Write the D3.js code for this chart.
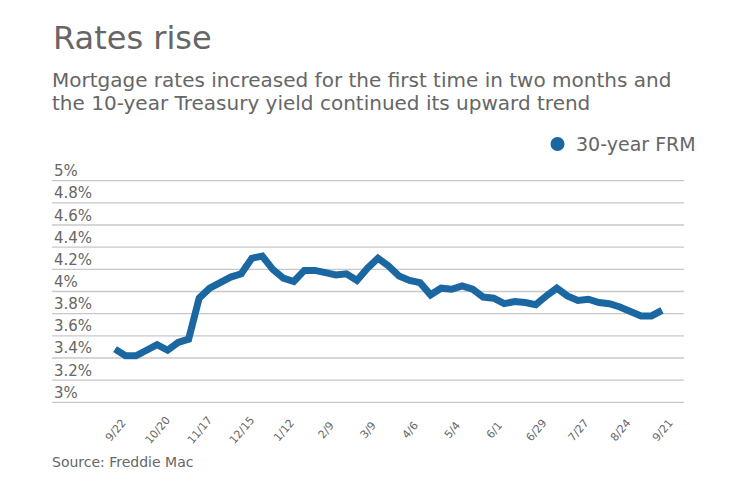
<!DOCTYPE html>
<html><head><meta charset="utf-8">
<script src="https://cdn.jsdelivr.net/npm/d3@7"></script>
<style>body{margin:0;background:#fff}svg{display:block}text{font-family:"DejaVu Sans",Verdana,sans-serif}</style>
</head><body><svg id="c" width="740" height="482"></svg>
<script>
const dates = ["9/22","9/29","10/6","10/13","10/20","10/27","11/3","11/10","11/17","11/23","12/1","12/8","12/15","12/22","12/29","1/5","1/12","1/19","1/26","2/2","2/9","2/16","2/23","3/2","3/9","3/16","3/23","3/30","4/6","4/13","4/20","4/27","5/4","5/11","5/18","5/25","6/1","6/8","6/15","6/22","6/29","7/6","7/13","7/20","7/27","8/3","8/10","8/17","8/24","8/31","9/7","9/14","9/21"];
const frm30 = [3.48,3.42,3.42,3.47,3.52,3.47,3.54,3.57,3.94,4.03,4.08,4.13,4.16,4.30,4.32,4.20,4.12,4.09,4.19,4.19,4.17,4.15,4.16,4.10,4.21,4.30,4.23,4.14,4.10,4.08,3.97,4.03,4.02,4.05,4.02,3.95,3.94,3.89,3.91,3.90,3.88,3.96,4.03,3.96,3.92,3.93,3.90,3.89,3.86,3.82,3.78,3.78,3.83];
const tickLabels = ["9/22","10/20","11/17","12/15","1/12","2/9","3/9","4/6","5/4","6/1","6/29","7/27","8/24","9/21"];
const yTicks = [3,3.2,3.4,3.6,3.8,4,4.2,4.4,4.6,4.8,5];

const svg = d3.select("#c");
const grey = "#666";
const blue = "#1a67a1";
const x = d3.scalePoint().domain(dates).range([115, 662]);
const y = d3.scaleLinear().domain([3,5]).range([402.3, 180.7]);

svg.append("text").attr("x",53).attr("y",49).attr("font-size",32).attr("fill",grey).text("Rates rise");
svg.append("text").attr("x",52).attr("y",87).attr("font-size",20).attr("fill",grey).text("Mortgage rates increased for the first time in two months and");
svg.append("text").attr("x",52).attr("y",110).attr("font-size",20).attr("fill",grey).text("the 10-year Treasury yield continued its upward trend");

svg.append("circle").attr("cx",557.5).attr("cy",144).attr("r",7).attr("fill",blue);
svg.append("text").attr("x",576).attr("y",151).attr("font-size",19).attr("fill",grey).text("30-year FRM");

const gy = svg.append("g");
yTicks.forEach(v=>{
  gy.append("line").attr("x1",52).attr("x2",684).attr("y1",y(v)).attr("y2",y(v)).attr("stroke","#c8c8c8").attr("stroke-width",1.3);
  gy.append("text").attr("x",54).attr("y",y(v)-4.5).attr("font-size",15).attr("fill",grey).text(d3.format("")(+v.toFixed(1))+"%");
});

const xAxis = d3.axisBottom(x).tickValues(tickLabels).tickSize(0).tickPadding(0);
const gx = svg.append("g").attr("transform","translate(0,430)").call(xAxis);
gx.select(".domain").remove();
gx.selectAll("text").attr("font-size",11).attr("fill",grey).attr("font-family","DejaVu Sans, Verdana, sans-serif")
  .attr("text-anchor","middle").attr("dy","0.35em").attr("y",0).attr("x",0).attr("transform","rotate(-50)");

const line = d3.line().x((d,i)=>x(dates[i])).y(d=>y(d));
svg.append("path").datum(frm30).attr("d",line).attr("fill","none").attr("stroke",blue).attr("stroke-width",7).attr("stroke-linejoin","miter");

svg.append("text").attr("x",52).attr("y",467).attr("font-size",14).attr("fill",grey).text("Source: Freddie Mac");
</script></body></html>
